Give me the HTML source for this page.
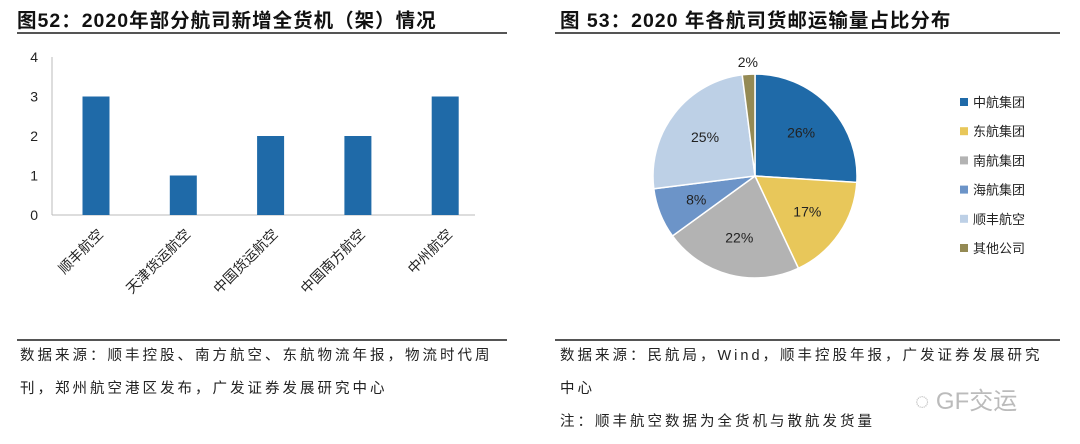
<!DOCTYPE html>
<html><head><meta charset="utf-8"><style>
body{margin:0;width:1080px;height:444px;background:#fff;font-family:"Liberation Sans","Noto Sans CJK SC",sans-serif;position:relative;overflow:hidden}
.t{position:absolute;font-weight:bold;font-size:19.5px;color:#111;top:4px;letter-spacing:1px;white-space:nowrap}
.hr{position:absolute;height:1.5px;background:#555}
.src{position:absolute;font-size:14.5px;color:#222;line-height:33px;letter-spacing:3px;white-space:nowrap}
</style></head><body>
<div class="t" style="left:17px">图52：2020年部分航司新增全货机（架）情况</div>
<div class="t" style="left:560px">图 53：2020 年各航司货邮运输量占比分布</div>
<div class="hr" style="left:17px;top:32px;width:490px"></div>
<div class="hr" style="left:555px;top:32px;width:505px"></div>
<div class="hr" style="left:17px;top:339px;width:490px"></div>
<div class="hr" style="left:555px;top:339px;width:505px"></div>
<div class="src" style="left:20px;top:340px">数据来源：顺丰控股、南方航空、东航物流年报，物流时代周<br>刊，郑州航空港区发布，广发证券发展研究中心</div>
<div class="src" style="left:560px;top:340px">数据来源：民航局，Wind，顺丰控股年报，广发证券发展研究<br>中心<br>注：顺丰航空数据为全货机与散航发货量</div>
<div style="position:absolute;left:915px;top:381px;font-size:24px;color:#bbb">◌ GF交运</div>
<svg id="bar" width="540" height="340" style="position:absolute;left:0;top:0"></svg>
<svg id="pie" width="540" height="340" style="position:absolute;left:540px;top:0"></svg>
<script>
const cats=["顺丰航空","天津货运航空","中国货运航空","中国南方航空","中州航空"];
const vals=[3,1,2,2,3];
const yTicks=[0,1,2,3,4];
const pieLabels=["中航集团","东航集团","南航集团","海航集团","顺丰航空","其他公司"];
const pieVals=[26,17,22,8,25,2];
const pieColors=["#1f6aa8","#e8c75a","#b3b3b3","#6c94c8","#bdd0e6","#948a54"];
const NS="http://www.w3.org/2000/svg";
function mk(p,t,a,txt){const e=document.createElementNS(NS,t);for(const k in a)e.setAttribute(k,a[k]);if(txt!=null)e.textContent=txt;p.appendChild(e);return e;}
const bar=document.getElementById('bar');
const y0=215,ppu=39.5,x0=52;
const ys=v=>y0-v*ppu;
mk(bar,'line',{x1:x0,y1:ys(4),x2:x0,y2:y0,stroke:'#bbb'});
mk(bar,'line',{x1:x0,y1:y0,x2:475,y2:y0,stroke:'#bbb'});
yTicks.forEach(t=>{const e=mk(bar,'text',{x:38,y:ys(t)+5,'text-anchor':'end','font-size':14,fill:'#222'},t);

});
cats.forEach((c,i)=>{const cx=96+i*87.3;
const r=mk(bar,'rect',{x:cx-13.5,y:ys(vals[i]),width:27,height:vals[i]*ppu,fill:'#1f6aa8'});


const t=mk(bar,'text',{x:cx+8,y:y0+20,'text-anchor':'end','font-size':14,fill:'#222',transform:`rotate(-45 ${cx+8} ${y0+20})`},c);

});
const pie=document.getElementById('pie');
const cx=215,cy=176,R=102,tot=pieVals.reduce((a,b)=>a+b,0);
let a=0;
pieVals.forEach((v,i)=>{const a0=a,a1=a+v/tot*2*Math.PI;a=a1;
const p=(ang,r)=>[cx+r*Math.sin(ang),cy-r*Math.cos(ang)];
const [sx,sy]=p(a0,R),[ex,ey]=p(a1,R);
const s=mk(pie,'path',{d:`M${cx},${cy}L${sx},${sy}A${R},${R} 0 ${a1-a0>Math.PI?1:0} 1 ${ex},${ey}Z`,fill:pieColors[i],stroke:'#fff','stroke-width':1.5});


const m=(a0+a1)/2,lr=i==5?R+12:R*0.62;const [lx,ly]=p(m,lr);
const t=mk(pie,'text',{x:lx,y:ly+5,'text-anchor':'middle','font-size':14,fill:'#222'},v+'%');


const ly2=103+i*29.2;
const sq=mk(pie,'rect',{x:420,y:ly2-5,width:8,height:8,fill:pieColors[i]});


const lt=mk(pie,'text',{x:433,y:ly2+4,'font-size':13,fill:'#222'},pieLabels[i]);

});
</script>
</body></html>
